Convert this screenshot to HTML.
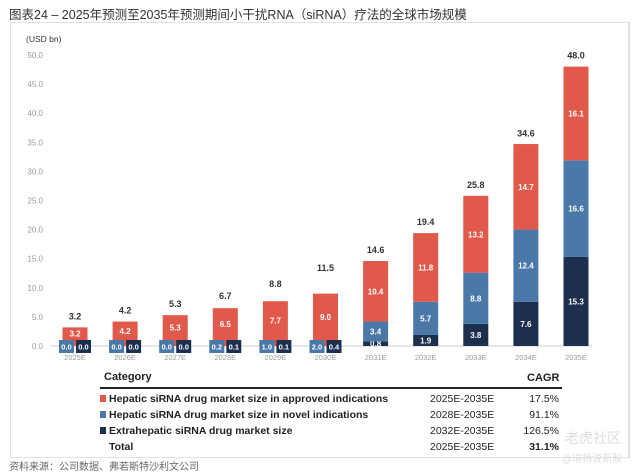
<!DOCTYPE html>
<html><head><meta charset="utf-8"><style>
body{margin:0;background:#fff;width:640px;height:473px;overflow:hidden;font-family:"Liberation Sans","Noto Sans CJK SC",sans-serif;}
.t{position:absolute;white-space:nowrap}
</style></head><body>
<div class="t" style="left:9px;top:4px;font-size:12.5px;color:#333">图表24 – 2025年预测至2035年预测期间小干扰RNA（siRNA）疗法的全球市场规模</div>
<div style="position:absolute;left:10px;top:22px;width:617px;height:434px;border:1px solid #e2e2e2;border-right:2px solid #e2e2e2"></div>
<svg id="chart" width="640" height="473" style="position:absolute;left:0;top:0" font-family="Liberation Sans, sans-serif"></svg>
<div class="t" style="left:104px;top:371px;font-size:11px;font-weight:bold;color:#222">Category</div>
<div class="t" style="left:527px;top:372px;font-size:11px;font-weight:bold;color:#222">CAGR</div>
<div style="position:absolute;left:100px;top:387px;width:462px;height:2px;background:#222"></div>
<div id="rows"></div>
<div class="t" style="left:9px;top:458px;font-size:10px;color:#666">资料来源：公司数据、弗若斯特沙利文公司</div>
<div class="t" style="left:565px;top:428px;font-size:14px;color:#ddd">老虎社区</div>
<div class="t" style="left:562px;top:450px;font-size:10px;color:#ddd">@瑞扬说新股</div>
<script>
const years=["2025E","2026E","2027E","2028E","2029E","2030E","2031E","2032E","2033E","2034E","2035E"];
const approved=[3.2,4.2,5.3,6.5,7.7,9.0,10.4,11.8,13.2,14.7,16.1];
const novel=[0.0,0.0,0.0,0.2,1.0,2.0,3.4,5.7,8.8,12.4,16.6];
const extra=[0.0,0.0,0.0,0.1,0.1,0.4,0.8,1.9,3.8,7.6,15.3];
const totals=[3.2,4.2,5.3,6.7,8.8,11.5,14.6,19.4,25.8,34.6,48.0];
const yTicks=[0,5,10,15,20,25,30,35,40,45,50];
const legendNames=["Hepatic siRNA drug market size in approved indications","Hepatic siRNA drug market size in novel indications","Extrahepatic siRNA drug market size","Total"];
const legendPeriods=["2025E-2035E","2028E-2035E","2032E-2035E","2025E-2035E"];
const legendCagr=["17.5%","91.1%","126.5%","31.1%"];
const RED="#e0594a",BLUE="#4a78a8",NAVY="#1d2f4f";
const svg=document.getElementById('chart');const NS="http://www.w3.org/2000/svg";
const y=v=>346-v*5.82, x=i=>75+i*50.1, BW=25;
function el(t,a,txt){const e=document.createElementNS(NS,t);for(const k in a)e.setAttribute(k,a[k]);if(txt!=null)e.textContent=txt;svg.appendChild(e);return e;}
const u=el('text',{x:26,y:42,'font-size':8.5,fill:'#333'},'(USD bn)');


yTicks.forEach(v=>{const t=el('text',{x:43,y:y(v)+3,'font-size':8,fill:'#999','text-anchor':'end'},v.toFixed(1));

});
const base=el('line',{x1:50,x2:592,y1:y(0),y2:y(0),stroke:'#ddd','stroke-width':1.5});


years.forEach((yr,i)=>{
 const cx=x(i);
 const xl=el('text',{x:cx,y:y(0)+14,'font-size':7.5,fill:'#999','text-anchor':'middle'},yr);
 
 
 const small=i<=5;
 let b0=0;
 const segs=[[extra[i],NAVY,'bar-extrahepatic'],[novel[i],BLUE,'bar-novel'],[approved[i],RED,'bar-approved']];
 segs.forEach(([v,c,n],k)=>{
  if(small&&k<2){return;}
  const r=el('rect',{x:cx-BW/2,y:y(b0+v),width:BW,height:v*5.82,fill:c});
  
  
  let ly=y(b0+v/2)+3;
  if(small){ly=(y(b0+v)+y(0)-6)/2+3;}
  if(v>=0.8){const t=el('text',{x:cx,y:ly,'font-size':8,'font-weight':'bold',fill:'#fff','text-anchor':'middle'},v.toFixed(1));
   
   }
  b0+=v;
 });
 if(small){
  [[novel[i],BLUE,-16],[extra[i],NAVY,1]].forEach(([v,c,dx])=>{
   const r=el('rect',{x:cx+dx,y:y(0)-6,width:15,height:13,fill:c});
   
   
   const t=el('text',{x:cx+dx+7.5,y:y(0)+3.5,'font-size':7.5,'font-weight':'bold',fill:'#fff','text-anchor':'middle'},v.toFixed(1));
   
   
  });
 }
 const tt=el('text',{x:cx,y:y(totals[i])-8,'font-size':9,'font-weight':'bold',fill:'#333','text-anchor':'middle'},totals[i].toFixed(1));
 
 
});
const rows=document.getElementById('rows');const cols=[RED,BLUE,NAVY,null];
legendNames.forEach((n,i)=>{
 const top=393+i*16;
 const d=document.createElement('div');d.className='t';d.style.cssText=`left:100px;top:${top}px;font-size:10.5px;font-weight:bold;color:#222`;
 
 
 d.innerHTML=(cols[i]?`<span style="display:inline-block;width:6px;height:7px;background:${cols[i]};margin-right:3px"></span>`:`<span style="display:inline-block;width:9px"></span>`)+n;
 rows.appendChild(d);
 const p=document.createElement('div');p.className='t';p.style.cssText=`left:430px;top:${top}px;font-size:10.5px;color:#222`;p.textContent=legendPeriods[i];
 
 
 rows.appendChild(p);
 const c=document.createElement('div');c.className='t';c.style.cssText=`right:81px;top:${top}px;font-size:10.5px;color:#222;${i==3?'font-weight:bold':''}`;c.textContent=legendCagr[i];
 
 
 rows.appendChild(c);
});
</script>
</body></html>
